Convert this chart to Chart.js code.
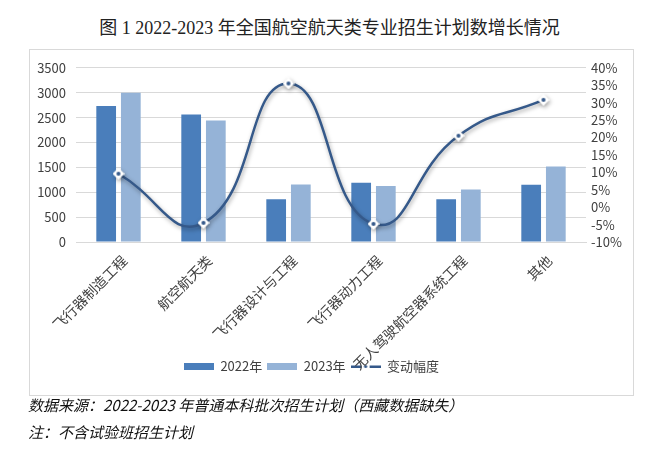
<!DOCTYPE html>
<html>
<head>
<meta charset="utf-8">
<script src="https://cdn.jsdelivr.net/npm/chart.js@4"></script>
<style>
  body { margin: 0; background: #fff; width: 659px; height: 467px; position: relative; overflow: hidden;
         font-family: "Noto Sans CJK SC", sans-serif; }
  #title { position: absolute; left: 0; width: 659px; top: 13px; text-align: center; font-size: 18px; color: #222;
           font-family: "Liberation Serif", "Noto Sans CJK SC", serif; }
  #box { position: absolute; left: 29px; top: 49px; width: 603px; height: 345px; border: 1px solid #d9d9d9; }
  .note { position: absolute; left: 28px; font-size: 15px; font-style: italic; color: #111; }
</style>
</head>
<body>
<div id="title">图 1 2022-2023 年全国航空航天类专业招生计划数增长情况</div>
<div id="box"><canvas id="growthChart" width="603" height="345"></canvas></div>
<div class="note" style="top:394px">数据来源：2022-2023 年普通本科批次招生计划（西藏数据缺失）</div>
<div class="note" style="top:421px">注：不含试验班招生计划</div>
<script>
// Data
const categories = ['飞行器制造工程', '航空航天类', '飞行器设计与工程', '飞行器动力工程', '无人驾驶航空器系统工程', '其他'];
const plan2022 = [2730, 2560, 860, 1190, 860, 1150];
const plan2023 = [3000, 2440, 1155, 1125, 1055, 1515];
const changePct = [9.6, -4.5, 35.5, -4.8, 20.5, 30.8];
const leftTicks = [0, 500, 1000, 1500, 2000, 2500, 3000, 3500];
const rightTicks = [-10, -5, 0, 5, 10, 15, 20, 25, 30, 35, 40];

const c2022 = '#4a7ebb';
const c2023 = '#95b3d7';
const cLine = '#35598a';
const font = '"Noto Sans CJK SC", sans-serif';

// white diamond marker with dark centre
function makeMarker() {
  const m = document.createElement('canvas');
  m.width = 12; m.height = 12;
  const g = m.getContext('2d');
  g.fillStyle = '#fff';
  g.beginPath(); g.moveTo(6, 0); g.lineTo(12, 6); g.lineTo(6, 12); g.lineTo(0, 6); g.closePath(); g.fill();
  g.fillStyle = cLine;
  g.beginPath(); g.arc(6, 6, 2, 0, Math.PI * 2); g.fill();
  return m;
}
function legendBox(color) {
  const m = document.createElement('canvas');
  m.width = 30; m.height = 7;
  const g = m.getContext('2d');
  g.fillStyle = color; g.fillRect(0, 0, 30, 7);
  return m;
}
function legendLine() {
  const m = document.createElement('canvas');
  m.width = 30; m.height = 7;
  const g = m.getContext('2d');
  g.fillStyle = cLine;
  g.fillRect(0, 2.5, 11, 2.5);
  g.fillRect(19, 2.5, 11, 2.5);
  g.beginPath(); g.arc(15, 3.5, 1.6, 0, Math.PI * 2); g.fill();
  return m;
}
const legendIcons = [legendBox(c2022), legendBox(c2023), legendLine()];

const lineShadow = {
  id: 'lineShadow',
  beforeDatasetDraw(chart, args) {
    if (args.index === 2) {
      chart.ctx.save();
      chart.ctx.shadowColor = 'rgba(0,0,0,0.35)';
      chart.ctx.shadowBlur = 4;
      chart.ctx.shadowOffsetX = 1;
      chart.ctx.shadowOffsetY = 2;
    }
  },
  afterDatasetDraw(chart, args) {
    if (args.index === 2) chart.ctx.restore();
  }
};

// rotated category labels, placed from the x scale
const slantLabels = {
  id: 'slantLabels',
  afterDraw(chart) {
    const xs = chart.scales.x;
    const c = chart.ctx;
    c.save();
    c.font = '14px ' + font;
    c.fillStyle = '#404040';
    c.textAlign = 'right';
    c.textBaseline = 'middle';
    categories.forEach((lab, i) => {
      c.save();
      c.translate(xs.getPixelForValue(i) + 6, xs.top + 16);
      c.rotate(-Math.PI / 4);
      c.fillText(lab, 0, 0);
      c.restore();
    });
    c.restore();
  }
};

// legend sits a little left of centre in the original
const legendShift = {
  id: 'legendShift',
  afterLayout(chart) {
    chart.legend.left -= 20;
    chart.legend.right -= 20;
  }
};

const ctx = document.getElementById('growthChart').getContext('2d');
new Chart(ctx, {
  data: {
    labels: categories,
    datasets: [
      { type: 'bar', label: '2022年', data: plan2022, backgroundColor: c2022, yAxisID: 'y', order: 2,
        categoryPercentage: 0.58, barPercentage: 0.8 },
      { type: 'bar', label: '2023年', data: plan2023, backgroundColor: c2023, yAxisID: 'y', order: 2,
        categoryPercentage: 0.58, barPercentage: 0.8 },
      { type: 'line', label: '变动幅度', data: changePct, borderColor: cLine, borderWidth: 2.5, yAxisID: 'y1',
        tension: 0.5, pointStyle: makeMarker(), pointRadius: 6, order: 1 }
    ]
  },
  options: {
    responsive: false,
    animation: false,
    layout: { padding: { top: 4, left: 0, right: 0, bottom: 12 } },
    plugins: {
      tooltip: { enabled: false },
      legend: {
        position: 'bottom',
        labels: {
          usePointStyle: true,
          pointStyleWidth: 30,
          boxHeight: 7,
          padding: 5,
          color: '#404040',
          font: { family: font, size: 13 },
          generateLabels(chart) {
            const items = Chart.defaults.plugins.legend.labels.generateLabels(chart);
            items.sort((a, b) => a.datasetIndex - b.datasetIndex);
            items.forEach(it => { it.pointStyle = legendIcons[it.datasetIndex]; });
            return items;
          }
        }
      }
    },
    scales: {
      x: {
        grid: { display: false },
        border: { color: '#d9d9d9' },
        ticks: { display: false },
        afterFit(s) { s.height = 113; }
      },
      y: {
        position: 'left',
        min: 0, max: 3500,
        afterBuildTicks(s) { s.ticks = leftTicks.map(v => ({ value: v })); },
        grid: { color: '#d9d9d9', drawTicks: false },
        border: { display: false },
        ticks: { autoSkip: false, color: '#404040', font: { family: font, size: 13 }, padding: 10,
                 callback: v => String(v) },
        afterFit(s) { s.width = 46; }
      },
      y1: {
        position: 'right',
        min: -10, max: 40,
        afterBuildTicks(s) { s.ticks = rightTicks.map(v => ({ value: v })); },
        grid: { display: false, drawTicks: false },
        border: { display: false },
        ticks: { autoSkip: false, color: '#404040', font: { family: font, size: 13 }, padding: 5,
                 callback: v => v + '%' },
        afterFit(s) { s.width = 47; }
      }
    }
  },
  plugins: [lineShadow, slantLabels, legendShift]
});
</script>
</body>
</html>
